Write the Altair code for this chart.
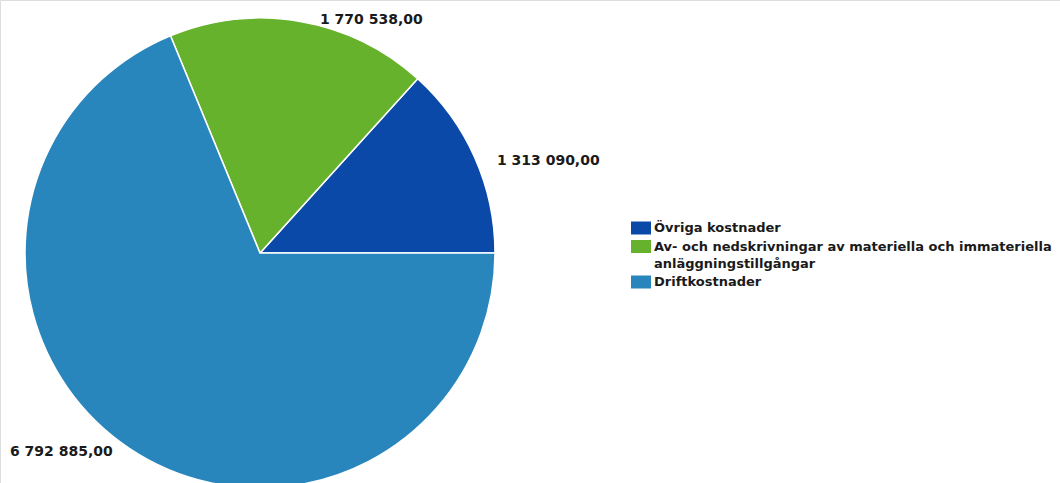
import math
import altair as alt
import pandas as pd

categories = [
    "Övriga kostnader",
    "Av- och nedskrivningar av materiella och immateriella anläggningstillgångar",
    "Driftkostnader",
]
values = [1313090.00, 1770538.00, 6792885.00]
value_labels = ["1 313 090,00", "1 770 538,00", "6 792 885,00"]
colors = ["#0b49a8", "#67b22c", "#2986bc"]

df = pd.DataFrame({
    "category": categories,
    "value": values,
    "label": value_labels,
    "idx": list(range(len(categories))),
})

CX, CY, R = 260, 253, 235
theta_scale = alt.Scale(domain=[0, 1], range=[math.pi / 2, math.pi / 2 + 2 * math.pi])
color_scale = alt.Scale(domain=categories, range=colors)

base = (
    alt.Chart(df)
    .transform_joinaggregate(total="sum(value)")
    .transform_window(cum="sum(value)", sort=[alt.SortField("idx", order="descending")], frame=[None, 0])
    .transform_calculate(
        start="(datum.cum - datum.value) / datum.total",
        end="datum.cum / datum.total",
        mid="(datum.cum - datum.value / 2) / datum.total",
    )
)

long_label = categories[1]
label_expr = (
    "datum.label == '" + long_label + "' ? "
    "['Av- och nedskrivningar av materiella och immateriella', 'anläggningstillgångar'] : datum.label"
)

arcs = base.mark_arc(outerRadius=R, stroke="white", strokeWidth=1.5).encode(
    theta=alt.Theta("start:Q", scale=theta_scale),
    theta2="end:Q",
    x=alt.value(CX),
    y=alt.value(CY),
    color=alt.Color(
        "category:N",
        scale=color_scale,
        sort=categories,
        legend=alt.Legend(
            title=None,
            orient="none",
            legendX=631,
            legendY=218,
            symbolType="M-1,-0.65H1V0.65H-1Z",
            symbolSize=400,
            symbolStrokeWidth=0,
            symbolOpacity=1,
            labelFont="DejaVu Sans",
            labelFontWeight="bold",
            labelFontSize=13,
            labelColor="#1a1a1a",
            labelLimit=600,
            labelOffset=3,
            rowPadding=1.5,
            labelExpr=label_expr,
        ),
    ),
)

def text_layer(cat, align, dx, dy):
    return base.transform_filter(alt.datum.category == cat).mark_text(
        radius=245, align=align, baseline="middle", dx=dx, dy=dy,
        font="DejaVu Sans", fontWeight="bold", fontSize=14, color="#1a1a1a",
    ).encode(
        theta=alt.Theta("mid:Q", scale=theta_scale),
        x=alt.value(CX),
        y=alt.value(CY),
        text="label:N",
    )

chart = (
    alt.layer(
        arcs,
        text_layer(categories[0], "left", 13, 7),
        text_layer(categories[1], "left", 18, 8),
        text_layer(categories[2], "right", -11, -5),
    )
    .properties(width=1060, height=483, padding=0, autosize=alt.AutoSizeParams(type="none"))
    .configure_view(stroke=None)
    .configure(background="white", style={"guide-label": {"lineHeight": 17}})
)

chart.save("out.html", embed_options={"renderer": "svg", "actions": False})
